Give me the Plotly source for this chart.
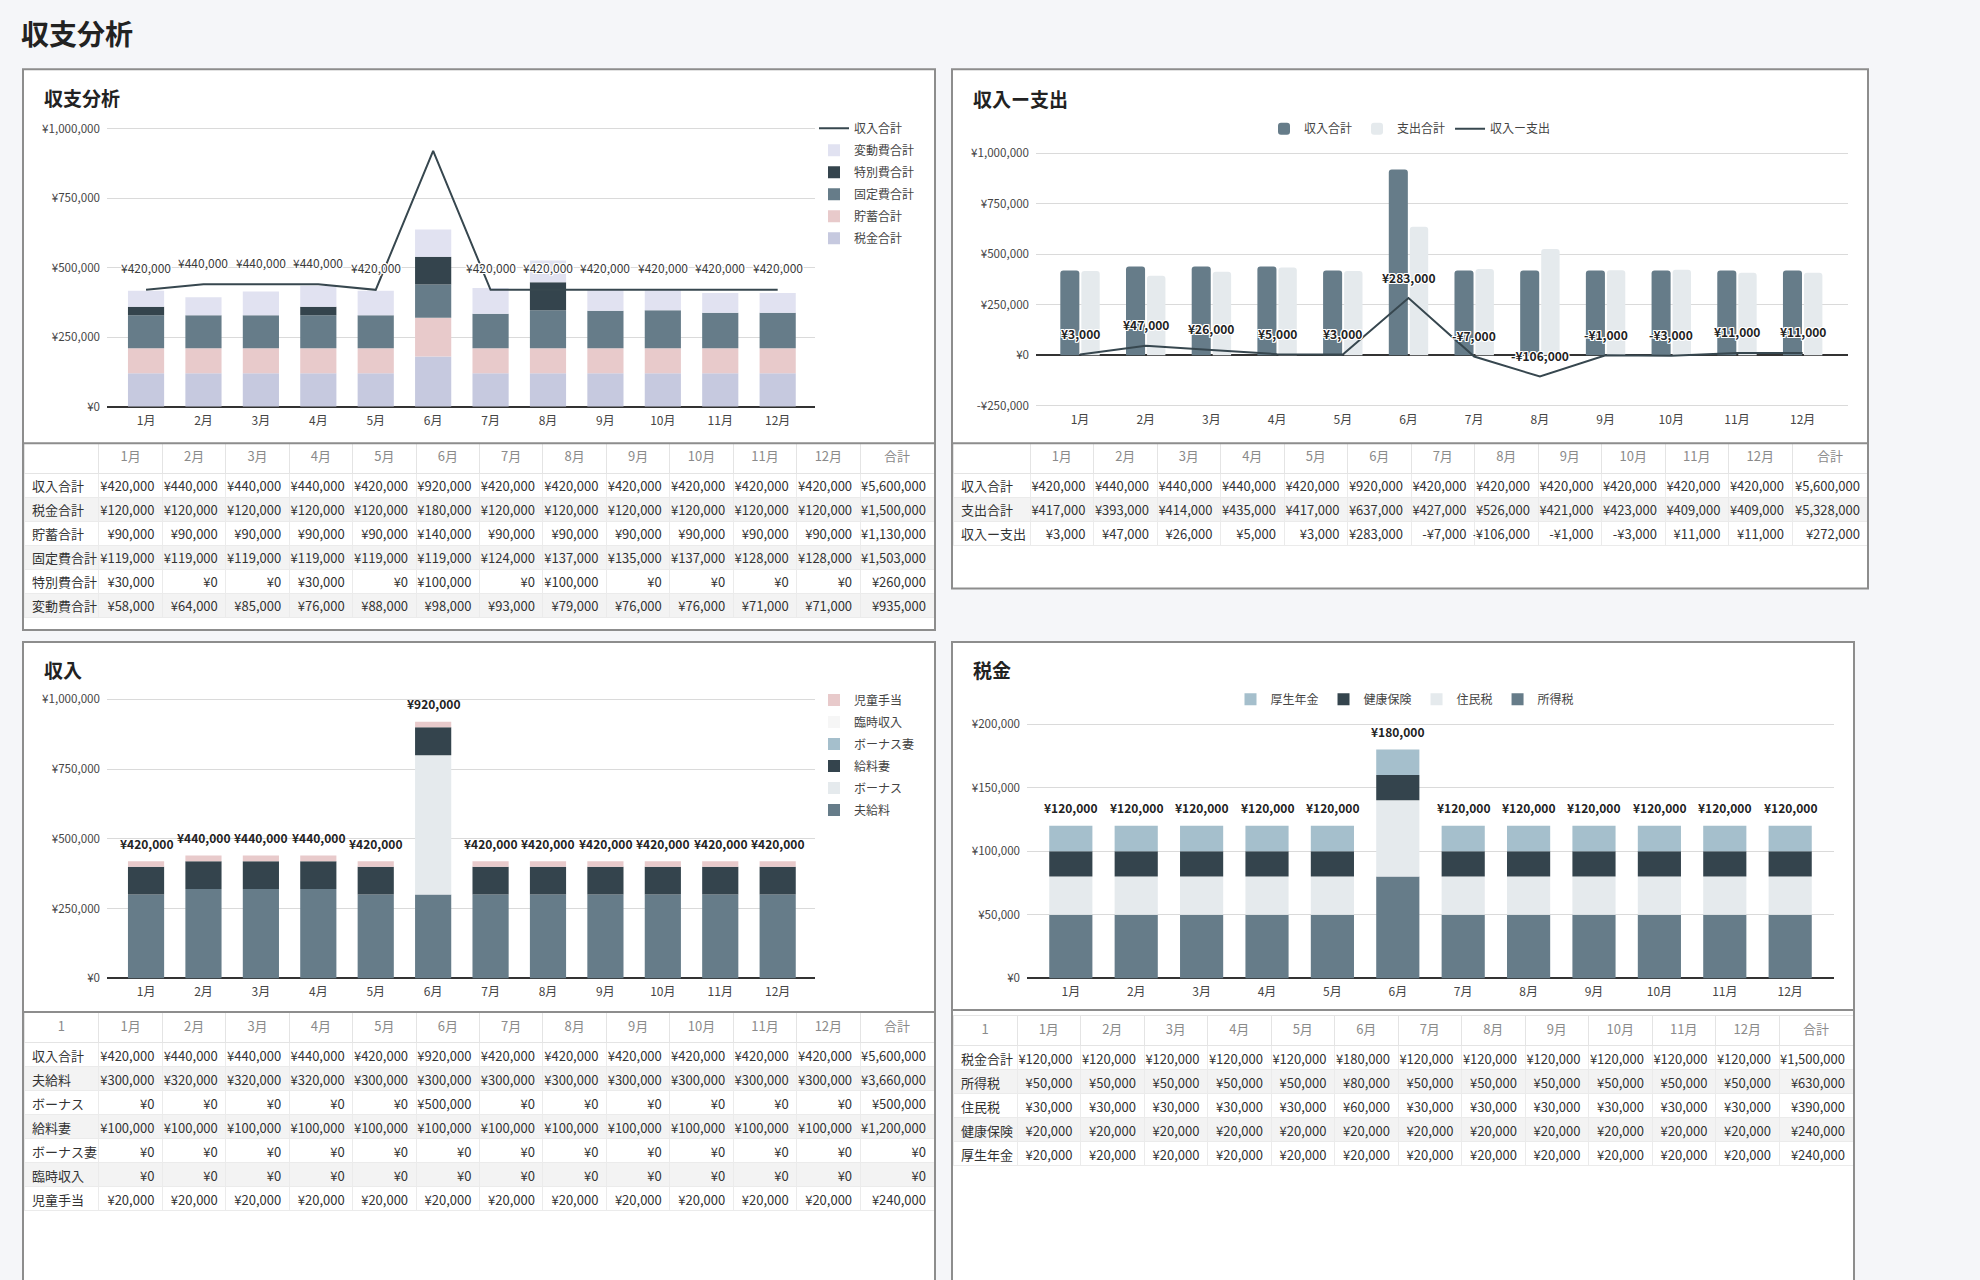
import plotly.graph_objects as go
import numpy as np

W, H = 1980, 1280
FONT = "Noto Sans CJK JP"

# ---------------- data ----------------
months = ["1月", "2月", "3月", "4月", "5月", "6月", "7月", "8月", "9月", "10月", "11月", "12月"]

# 収支分析 (summary)
income_total = [420000, 440000, 440000, 440000, 420000, 920000, 420000, 420000, 420000, 420000, 420000, 420000]
tax_total = [120000, 120000, 120000, 120000, 120000, 180000, 120000, 120000, 120000, 120000, 120000, 120000]
savings_total = [90000, 90000, 90000, 90000, 90000, 140000, 90000, 90000, 90000, 90000, 90000, 90000]
fixed_total = [119000, 119000, 119000, 119000, 119000, 119000, 124000, 137000, 135000, 137000, 128000, 128000]
special_total = [30000, 0, 0, 30000, 0, 100000, 0, 100000, 0, 0, 0, 0]
variable_total = [58000, 64000, 85000, 76000, 88000, 98000, 93000, 79000, 76000, 76000, 71000, 71000]

# 収入 (income detail)
husband_salary = [300000, 320000, 320000, 320000, 300000, 300000, 300000, 300000, 300000, 300000, 300000, 300000]
bonus = [0, 0, 0, 0, 0, 500000, 0, 0, 0, 0, 0, 0]
wife_salary = [100000, 100000, 100000, 100000, 100000, 100000, 100000, 100000, 100000, 100000, 100000, 100000]
wife_bonus = [0, 0, 0, 0, 0, 0, 0, 0, 0, 0, 0, 0]
extra_income = [0, 0, 0, 0, 0, 0, 0, 0, 0, 0, 0, 0]
child_allowance = [20000, 20000, 20000, 20000, 20000, 20000, 20000, 20000, 20000, 20000, 20000, 20000]

# 税金 (tax detail)
income_tax = [50000, 50000, 50000, 50000, 50000, 80000, 50000, 50000, 50000, 50000, 50000, 50000]
resident_tax = [30000, 30000, 30000, 30000, 30000, 60000, 30000, 30000, 30000, 30000, 30000, 30000]
health_ins = [20000, 20000, 20000, 20000, 20000, 20000, 20000, 20000, 20000, 20000, 20000, 20000]
pension = [20000, 20000, 20000, 20000, 20000, 20000, 20000, 20000, 20000, 20000, 20000, 20000]

yticks_main = [0, 250000, 500000, 750000, 1000000]
yticks_diff = [-250000, 0, 250000, 500000, 750000, 1000000]
yticks_tax = [0, 50000, 100000, 150000, 200000]

# derived
expense_total = list(np.array(tax_total) + np.array(savings_total) + np.array(fixed_total)
                     + np.array(special_total) + np.array(variable_total))
diff_total = list(np.array(income_total) - np.array(expense_total))
tax_sum = list(np.array(income_tax) + np.array(resident_tax) + np.array(health_ins) + np.array(pension))

# ---------------- style ----------------
C_SLATE = "#667c89"
C_DARK = "#34444d"
C_LIGHT = "#e5eaed"
C_BLUE = "#a5bfcc"
C_PINK = "#e8cacb"
C_LAV = "#c6c9df"
C_LAV2 = "#e1e2f1"
C_WHITEISH = "#f6f6f6"
C_LINE = "#37474f"
C_GRID = "#dadada"
C_TEXT = "#333333"
HALO = "-1px -1px 0 #fff, 1px -1px 0 #fff, -1px 1px 0 #fff, 1px 1px 0 #fff, 0 1px 0 #fff, 0 -1px 0 #fff, 1px 0 0 #fff, -1px 0 0 #fff"


def fx(p):
    return p / W


def fy(p):
    return 1 - p / H


def yen(v):
    v = int(v)
    return ("-" if v < 0 else "") + "¥" + f"{abs(v):,}"


fig = go.Figure()

# ---------- panel backgrounds / borders ----------
panels = [(23, 62, 935, 629), (952, 62, 1868, 587), (23, 641, 935, 1290), (952, 641, 1854, 1290)]
shapes = []
for (x0, y0, x1, y1) in panels:
    shapes.append(dict(type="rect", xref="paper", yref="paper", x0=fx(x0), x1=fx(x1), y0=fy(y1), y1=fy(y0),
                       fillcolor="white", line=dict(width=0), layer="below"))
    shapes.append(dict(type="rect", xref="paper", yref="paper", x0=fx(x0), x1=fx(x1), y0=fy(y1), y1=fy(y0),
                       fillcolor="rgba(0,0,0,0)", line=dict(color="#8d8d8d", width=2), layer="above"))
for (x0, x1, yy) in [(23, 935, 440), (952, 1868, 440), (23, 935, 1015), (952, 1854, 1013)]:
    shapes.append(dict(type="line", xref="paper", yref="paper", x0=fx(x0), x1=fx(x1), y0=fy(yy), y1=fy(yy),
                       line=dict(color="#8d8d8d", width=2), layer="above"))


def add_stack(items, xa, ya, legend, width):
    """Stacked bars (bottom to top); legend lists the top segment first."""
    base = np.zeros(len(months))
    for i, (name, vals, color) in enumerate(items):
        vals = np.array(vals, dtype=float)
        fig.add_trace(go.Bar(x=months, y=vals, base=base.copy(), name=name, width=width,
                             marker=dict(color=color, line=dict(width=0)),
                             legendrank=1000 - i,
                             xaxis=xa, yaxis=ya, legend=legend, hoverinfo="skip"))
        base = base + vals
    return base


# ---------- chart geometry (px) ----------
C1 = dict(zero=403, scale=281 / 1e6, lo=0, hi=1000000)
C2 = dict(zero=351, scale=51 / 250000, lo=-250000, hi=1000000)
C3 = dict(zero=981, scale=282 / 1e6, lo=0, hi=1000000)
C4 = dict(zero=981, scale=257 / 200000, lo=0, hi=200000)

# ---------- chart 1: 収支分析 ----------
add_stack([("税金合計", tax_total, C_LAV), ("貯蓄合計", savings_total, C_PINK),
           ("固定費合計", fixed_total, C_SLATE), ("特別費合計", special_total, C_DARK),
           ("変動費合計", variable_total, C_LAV2)], "x", "y", "legend", 0.63)
fig.add_trace(go.Scatter(x=months, y=income_total, mode="lines", name="収入合計",
                         line=dict(color=C_LINE, width=2), xaxis="x", yaxis="y", legend="legend",
                         legendrank=1, hoverinfo="skip"))

# ---------- chart 2: 収入ー支出 ----------
fig.add_trace(go.Bar(x=months, y=income_total, name="収入合計", width=0.29, offset=-0.30,
                     marker=dict(color=C_SLATE, cornerradius=3, line=dict(width=0)),
                     xaxis="x2", yaxis="y2", legend="legend2", hoverinfo="skip"))
fig.add_trace(go.Bar(x=months, y=expense_total, name="支出合計", width=0.28, offset=0.02,
                     marker=dict(color=C_LIGHT, cornerradius=3, line=dict(width=0)),
                     xaxis="x2", yaxis="y2", legend="legend2", hoverinfo="skip"))
fig.add_trace(go.Scatter(x=months, y=diff_total, mode="lines", name="収入ー支出",
                         line=dict(color=C_LINE, width=2), xaxis="x2", yaxis="y2", legend="legend2",
                         hoverinfo="skip"))

# ---------- chart 3: 収入 ----------
inc_top = add_stack([("夫給料", husband_salary, C_SLATE), ("ボーナス", bonus, C_LIGHT),
                     ("給料妻", wife_salary, C_DARK), ("ボーナス妻", wife_bonus, C_BLUE),
                     ("臨時収入", extra_income, C_WHITEISH), ("児童手当", child_allowance, C_PINK)],
                    "x3", "y3", "legend3", 0.63)

# ---------- chart 4: 税金 ----------
tax_top = add_stack([("所得税", income_tax, C_SLATE), ("住民税", resident_tax, C_LIGHT),
                     ("健康保険", health_ins, C_DARK), ("厚生年金", pension, C_BLUE)],
                    "x4", "y4", "legend4", 0.66)

# ---------- annotations ----------
ann = []
ann.append(dict(text="<b>収支分析</b>", xref="paper", yref="paper", x=fx(19), y=fy(25), xanchor="left",
                yanchor="middle", showarrow=False, font=dict(size=28, color="#222", family=FONT)))
for txt, xp, yp in [("収支分析", 42, 90), ("収入ー支出", 971, 91), ("収入", 42, 669), ("税金", 971, 669)]:
    ann.append(dict(text=f"<b>{txt}</b>", xref="paper", yref="paper", x=fx(xp), y=fy(yp), xanchor="left",
                    yanchor="middle", showarrow=False, font=dict(size=19, color="#222", family=FONT)))

# line labels in chart 1 (labels that would run past the top of the plot are hidden, as in the source)
top_px_c1 = C1["zero"] - C1["hi"] * C1["scale"]
for m, v in zip(months, income_total):
    if C1["zero"] - v * C1["scale"] - 22 < top_px_c1 + 8:
        continue
    ann.append(dict(text=yen(v), x=m, y=v, xref="x", yref="y", yshift=22, showarrow=False,
                    font=dict(size=12, color="#3a3a3a", family=FONT, shadow=HALO)))
for m, v in zip(months, diff_total):
    ann.append(dict(text=f"<b>{yen(v)}</b>", x=m, y=v, xref="x2", yref="y2", yshift=21, showarrow=False,
                    font=dict(size=12, color="#222", family=FONT, shadow=HALO)))
for m, v in zip(months, inc_top):
    ann.append(dict(text=f"<b>{yen(v)}</b>", x=m, y=v, xref="x3", yref="y3", yshift=18, showarrow=False,
                    font=dict(size=12, color="#222", family=FONT)))
for m, v in zip(months, tax_top):
    ann.append(dict(text=f"<b>{yen(v)}</b>", x=m, y=v, xref="x4", yref="y4", yshift=18, showarrow=False,
                    font=dict(size=12, color="#222", family=FONT)))


# ---------- axes ----------
def xaxis_cfg(d0, d1, rlo, rhi, anchor):
    return dict(domain=[fx(d0), fx(d1)], range=[rlo, rhi], type="category", anchor=anchor,
                showgrid=False, showline=False, zeroline=False, ticks="", ticklabelstandoff=4,
                tickfont=dict(size=12, color="#444", family=FONT), fixedrange=True)


def yaxis_cfg(g, ticks, anchor):
    lo, hi, px_zero, px_per_unit = g["lo"], g["hi"], g["zero"], g["scale"]
    pad = (hi - lo) * 0.004
    top = px_zero - (hi + pad) * px_per_unit
    bot = px_zero - (lo - pad) * px_per_unit
    return dict(domain=[fy(bot), fy(top)], range=[lo - pad, hi + pad], anchor=anchor,
                tickvals=ticks, ticktext=[yen(t) for t in ticks], showgrid=True, gridcolor=C_GRID,
                gridwidth=1, zeroline=True, zerolinecolor="#333", zerolinewidth=1.5, showline=False,
                ticks="", ticklabelstandoff=6, tickfont=dict(size=11.6, color="#444", family=FONT),
                fixedrange=True)


layout_axes = dict(
    xaxis=xaxis_cfg(107, 815, -0.68, 11.65, "y"),
    yaxis=yaxis_cfg(C1, yticks_main, "x"),
    xaxis2=xaxis_cfg(1036, 1848, -0.67, 11.69, "y2"),
    yaxis2=yaxis_cfg(C2, yticks_diff, "x2"),
    xaxis3=xaxis_cfg(107, 815, -0.68, 11.65, "y3"),
    yaxis3=yaxis_cfg(C3, yticks_main, "x3"),
    xaxis4=xaxis_cfg(1027, 1834, -0.67, 11.67, "y4"),
    yaxis4=yaxis_cfg(C4, yticks_tax, "x4"),
)

leg_font = dict(size=12, color="#444", family=FONT)
legends = dict(
    legend=dict(x=fx(814), y=fy(107), xanchor="left", yanchor="top", orientation="v",
                traceorder="grouped", tracegroupgap=3, font=leg_font,
                bgcolor="rgba(0,0,0,0)", itemclick=False),
    legend2=dict(x=fx(1410), y=fy(122), xanchor="center", yanchor="middle", orientation="h",
                 traceorder="normal", font=leg_font, bgcolor="rgba(0,0,0,0)", itemclick=False),
    legend3=dict(x=fx(814), y=fy(685), xanchor="left", yanchor="top", orientation="v",
                 traceorder="grouped", tracegroupgap=3, font=leg_font,
                 bgcolor="rgba(0,0,0,0)", itemclick=False),
    legend4=dict(x=fx(1405), y=fy(699), xanchor="center", yanchor="middle", orientation="h",
                 traceorder="normal", font=leg_font, bgcolor="rgba(0,0,0,0)", itemclick=False),
)

# each vertical-legend entry in its own group so tracegroupgap spaces the rows like the source
for tr in fig.data:
    if tr.legend in ("legend", "legend3"):
        tr.legendgroup = f"{tr.legend}_{tr.name}"


# ---------- tables ----------
def add_table(rows, first_header, x0, x1, y_top, y_bot, colwidths):
    header = [first_header] + months + ["合計"]
    labels = [r[0] for r in rows]
    cols = [labels]
    for i in range(len(months)):
        cols.append([yen(r[1][i]) for r in rows])
    cols.append([yen(sum(r[1])) for r in rows])
    row_fill = ["white" if i % 2 == 0 else "#f3f3f3" for i in range(len(rows))]
    fig.add_trace(go.Table(
        domain=dict(x=[fx(x0), fx(x1)], y=[fy(y_bot), fy(y_top)]),
        columnwidth=colwidths,
        header=dict(values=header, height=30, align="center", fill_color="white",
                    font=dict(size=13, color="#8a8a8a", family=FONT),
                    line=dict(color="#e4e4e4", width=1)),
        cells=dict(values=cols, height=24, align=["left"] + ["right"] * 13,
                   fill_color=[row_fill] * 14,
                   font=dict(size=13, color=C_TEXT, family=FONT),
                   line=dict(color="#ebebeb", width=1)),
    ))


add_table([("収入合計", income_total), ("税金合計", tax_total), ("貯蓄合計", savings_total),
           ("固定費合計", fixed_total), ("特別費合計", special_total), ("変動費合計", variable_total)],
          "", 24, 935, 440, 629, [75] + [63.5] * 12 + [74])
add_table([("収入合計", income_total), ("支出合計", expense_total), ("収入ー支出", diff_total)],
          "", 953, 1868, 440, 587, [77] + [63.5] * 12 + [76])
add_table([("収入合計", income_total), ("夫給料", husband_salary), ("ボーナス", bonus),
           ("給料妻", wife_salary), ("ボーナス妻", wife_bonus), ("臨時収入", extra_income),
           ("児童手当", child_allowance)],
          "1", 24, 935, 1016, 1280, [75] + [63.5] * 12 + [74])
add_table([("税金合計", tax_sum), ("所得税", income_tax), ("住民税", resident_tax),
           ("健康保険", health_ins), ("厚生年金", pension)],
          "1", 953, 1853, 1019, 1280, [64] + [63.5] * 12 + [74])

fig.update_layout(
    width=W, height=H, margin=dict(l=0, r=0, t=0, b=0),
    paper_bgcolor="#f5f6f9", plot_bgcolor="rgba(0,0,0,0)",
    font=dict(family=FONT, color="#444"),
    barmode="overlay", showlegend=True,
    shapes=shapes, annotations=ann,
    **layout_axes, **legends,
)

fig.write_html("out.html", include_plotlyjs=True, full_html=True,
               config={"displayModeBar": False},
               post_script="document.body.style.margin='0';document.body.style.overflow='hidden';")
